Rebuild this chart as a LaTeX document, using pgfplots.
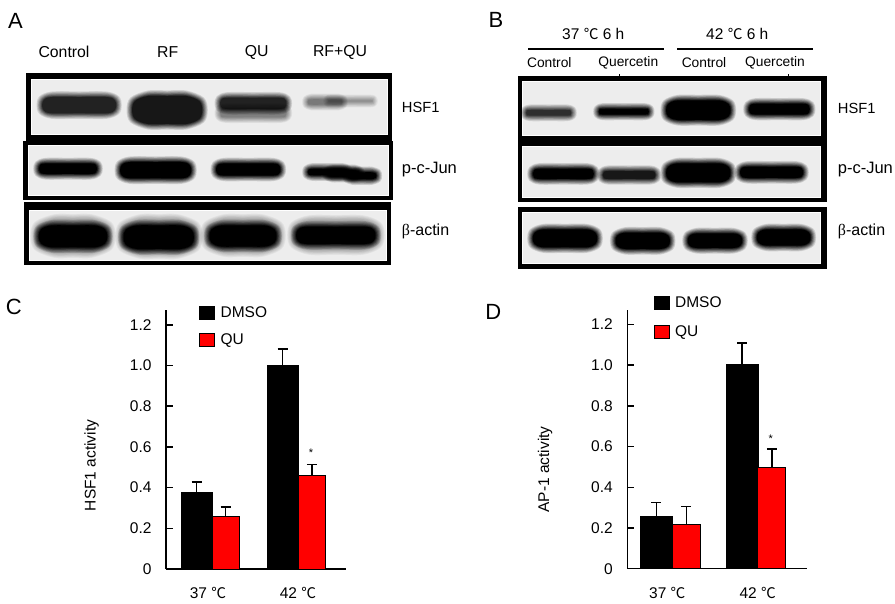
\documentclass[border=0pt]{standalone}
\usepackage{fontspec}
\usepackage{pgfplots}
\pgfplotsset{compat=1.18}
\setmainfont{Liberation Sans}
\newfontfamily\cjk{Noto Sans CJK SC}
\newfontfamily\greek{Liberation Serif}
\newcommand{\px}[1]{\fontsize{#1}{#1}\selectfont}
\newcommand{\degc}{{\cjk\addfontfeature{Scale=0.95}℃}}

% rectangle in picture pixels
\newcommand{\rect}[5]{%
  \addplot[draw=none,fill=#5] coordinates {(#1,#3) (#2,#3) (#2,#4) (#1,#4)} --cycle;
}
% blot frame: outer box, then inner box
\newcommand{\frm}[8]{%
  \rect{#1}{#2}{#3}{#4}{black}
  \rect{#5}{#6}{#7}{#8}{white}
  \pgfmathsetmacro\ia{#5+1}\pgfmathsetmacro\ib{#6-1}\pgfmathsetmacro\ic{#7+1}\pgfmathsetmacro\id{#8-1}
  \edef\tmp{\noexpand\rect{\ia}{\ib}{\ic}{\id}{black!7}}\tmp
}
% soft band: stacked translucent shapes, faint edge to dark core
\newcommand{\band}[5]{%
  \foreach \k in {0,1,2,3,4,5,6,7}{%
    \pgfmathsetmacro\ins{(\k-3.5)*0.8}
    \pgfmathsetmacro\xa{#1+\ins}\pgfmathsetmacro\xb{#2-\ins}
    \pgfmathsetmacro\ya{#3+\ins}\pgfmathsetmacro\yb{#4-\ins}
    \pgfmathsetmacro\hh{\yb-\ya}
    \pgfmathsetmacro\xm{(\xa+\xb)/2}\pgfmathsetmacro\ym{(\ya+\yb)/2}
    \pgfmathsetmacro\xc{\xa+0.55*\hh}\pgfmathsetmacro\xd{\xb-0.55*\hh}
    \pgfmathsetmacro\xe{\xa+0.1*\hh}\pgfmathsetmacro\xf{\xb-0.1*\hh}
    \pgfmathsetmacro\yc{\ya+0.18*\hh}\pgfmathsetmacro\yd{\yb-0.18*\hh}
    \pgfmathsetmacro\aa{1-(1-#5/100*(\k+1)/8)/(1-#5/100*\k/8)}
    \edef\tmp{\noexpand\addplot[draw=none,fill=black,fill opacity=\aa,smooth,tension=0.55] coordinates {(\xm,\ya) (\xd,\ya) (\xf,\yc) (\xb,\ym) (\xf,\yd) (\xd,\yb) (\xm,\yb) (\xc,\yb) (\xe,\yd) (\xa,\ym) (\xe,\yc) (\xc,\ya) (\xm,\ya)} --cycle;}\tmp
  }%
}

\pgfplotsset{
  barpanel/.style={
    scale only axis, width=180pt, height=259pt,
    xmin=0, xmax=180, ymin=0, ymax=1.273,
    axis lines=left, axis line style={-,line width=1.5pt},
    ybar, bar shift=0pt,
    ytick={0,0.2,0.4,0.6,0.8,1.0,1.2},
    yticklabels={0,0.2,0.4,0.6,0.8,1.0,1.2},
    tick align=inside,
    ytick style={line width=1.5pt,black},
    major tick length=6.5pt,
    xtick style={draw=none},
    tick label style={font=\px{15.5}},
    yticklabel style={xshift=-11pt},
    xticklabel style={yshift=-15pt},
    ylabel style={font=\px{15.5},anchor=center},
    legend style={draw=none,fill=none,font=\px{15.5},inner sep=0pt,
      row sep=10.5pt,cells={anchor=west},
      /tikz/every odd column/.append style={column sep=3.5pt}},
    legend image code/.code={\draw[#1,bar shift=0pt] (0pt,-6.5pt) rectangle (15pt,6.5pt);},
    error bars/y dir=plus, error bars/y explicit,
    error bars/error bar style={line width=1.6pt,black},
    error bars/error mark options={rotate=90,mark size=5pt,line width=1.6pt,black},
  },
  blackbar/.style={fill=black,draw=black,line width=1pt},
  redbar/.style={fill=red,draw=black,line width=1pt},
}

\begin{document}
\begin{tikzpicture}
\path[use as bounding box] (0,0) rectangle (895pt,-604pt);

% blots and labels, in picture pixels
\begin{axis}[
  at={(0pt,-604pt)}, anchor=south west, scale only axis,
  width=895pt, height=604pt, hide axis, clip=false,
  xmin=0, xmax=895, ymin=0, ymax=604, y dir=reverse,
]
% panel A
\frm{25.7}{392}{73}{140.7}{31}{387.7}{79}{135}
\band{39.3}{119}{94.3}{116}{85}
\band{129.3}{205}{93.3}{126.7}{90}
\band{217.3}{289.3}{106}{120}{45}
\band{217.3}{289.3}{95}{111.7}{85}
\band{326}{375}{97.5}{104.5}{38}
\band{305}{345}{96.5}{107.5}{48}
\frm{23.3}{393.3}{140.7}{200}{27.7}{389.3}{145}{195.7}
\band{36}{100}{160.7}{176.7}{100}
\band{117.3}{194}{159.3}{181}{100}
\band{213.3}{283.3}{160.7}{178.3}{100}
\band{305}{350}{166}{178}{100}
\band{325}{362}{167.5}{179.5}{100}
\band{345}{379.3}{169.5}{182}{100}
\frm{24.3}{390.7}{202.3}{265}{29}{386.7}{210}{261}
\band{33}{113}{217}{255}{30}
\band{118}{200}{217}{256}{30}
\band{203}{283}{217}{254}{30}
\band{290}{382}{218}{252}{30}
\band{36}{110}{222.7}{250}{100}
\band{120.7}{196.7}{222.7}{251.7}{100}
\band{206.7}{279.3}{222.7}{249.3}{100}
\band{293.3}{378.3}{224}{246.7}{100}
% panel B
\frm{518.3}{826.7}{76}{202.3}{522.3}{821}{81}{136}
\rect{522.3}{821}{145.7}{198.3}{white}
\rect{523.3}{820}{146.7}{197.3}{black!7}
\band{523.3}{574}{107.3}{118.3}{80}
\band{596}{651.7}{106}{117.3}{100}
\band{663.3}{733.3}{97.7}{122.7}{100}
\band{746}{812.7}{101}{117.3}{100}
\band{530}{596.7}{166}{181.7}{100}
\band{600}{658.3}{168.3}{181.7}{90}
\band{663.3}{733.3}{160.7}{185}{100}
\band{737.3}{806}{164}{180.7}{100}
\frm{518.3}{826.7}{206.7}{269}{522.3}{821}{212.3}{264.3}
\band{530}{600}{226.7}{250}{100}
\band{612.7}{672.7}{230}{251.7}{100}
\band{685}{745}{230.7}{250.7}{100}
\band{754}{813.3}{226.7}{248.3}{100}
% heading rules and specks of panel B
\rect{527.7}{664.3}{48.2}{49.8}{black}
\rect{677.3}{812.7}{48.2}{49.8}{black}
\rect{618.7}{619.4}{74}{76}{black}
\rect{788}{788.7}{74}{76}{black}

\node[font=\px{22}] at (axis cs:15.5,20.5) {A};
\node[font=\px{22}] at (axis cs:496,19.5) {B};
\node[font=\px{22}] at (axis cs:13.7,306.5) {C};
\node[font=\px{22}] at (axis cs:493.3,312) {D};

\begin{scope}[every node/.style={font=\px{15.8},inner sep=0pt}]
\node at (axis cs:64,52) {Control};
\node at (axis cs:167.7,52) {RF};
\node at (axis cs:256.7,52) {QU};
\node at (axis cs:340,52) {RF+QU};
\end{scope}
\begin{scope}[every node/.style={font=\px{14.7},inner sep=0pt,anchor=west}]
\node at (axis cs:401.7,107.3) {HSF1};
\node[font=\px{16.5}] at (axis cs:401.7,170) {p-c-Jun};
\node[font=\px{16}] at (axis cs:401.7,231.7) {{\greek β}-actin};
\node at (axis cs:837.7,108.3) {HSF1};
\node[font=\px{16.5}] at (axis cs:837.7,169.3) {p-c-Jun};
\node[font=\px{16}] at (axis cs:837.7,231.7) {{\greek β}-actin};
\end{scope}
\begin{scope}[every node/.style={font=\px{15.5},inner sep=0pt}]
\node at (axis cs:593.3,34.3) {37 \degc{} 6 h};
\node at (axis cs:737.3,34.3) {42 \degc{} 6 h};
\end{scope}
\begin{scope}[every node/.style={font=\px{13.8},inner sep=0pt}]
\node at (axis cs:549.3,62.7) {Control};
\node at (axis cs:628.3,62.7) {Quercetin};
\node at (axis cs:704,62.7) {Control};
\node at (axis cs:775,62.7) {Quercetin};
\end{scope}
\end{axis}

% panel C
\begin{axis}[barpanel,
  at={(166pt,-569pt)}, anchor=south west,
  xtick={42,132}, xticklabels={37 \degc,42 \degc},
  ylabel={HSF1 activity},
  ylabel style={at={(axis description cs:-0.413,0.40)}},
  legend style={at={(0.183,1.02)},anchor=north west},
]
\addplot[blackbar,bar width=31pt] coordinates {
  (30.5,0.375) +- (0,0.054)
  (116.5,1.0) +- (0,0.08)
};
\addplot[redbar,bar width=27pt] coordinates {
  (59.5,0.26) +- (0,0.045)
  (145.8,0.462) +- (0,0.052)
};
\legend{DMSO,QU}
\node[font=\px{11}] at (axis cs:145,0.57) {*};
\end{axis}

% panel D
\begin{axis}[barpanel,
  at={(627.3pt,-568.7pt)}, anchor=south west,
  xtick={40,130.4}, xticklabels={37 \degc,42 \degc},
  ylabel={AP-1 activity},
  ylabel style={at={(axis description cs:-0.457,0.383)}},
  legend style={at={(0.145,1.057)},anchor=north west,row sep=12pt},
]
\addplot[blackbar,bar width=32pt] coordinates {
  (29,0.256) +- (0,0.069)
  (114.9,1.005) +- (0,0.105)
};
\addplot[redbar,bar width=28pt] coordinates {
  (59,0.218) +- (0,0.087)
  (144.5,0.497) +- (0,0.09)
};
\legend{DMSO,QU}
\node[font=\px{11}] at (axis cs:143.4,0.64) {*};
\end{axis}
\end{tikzpicture}
\end{document}
